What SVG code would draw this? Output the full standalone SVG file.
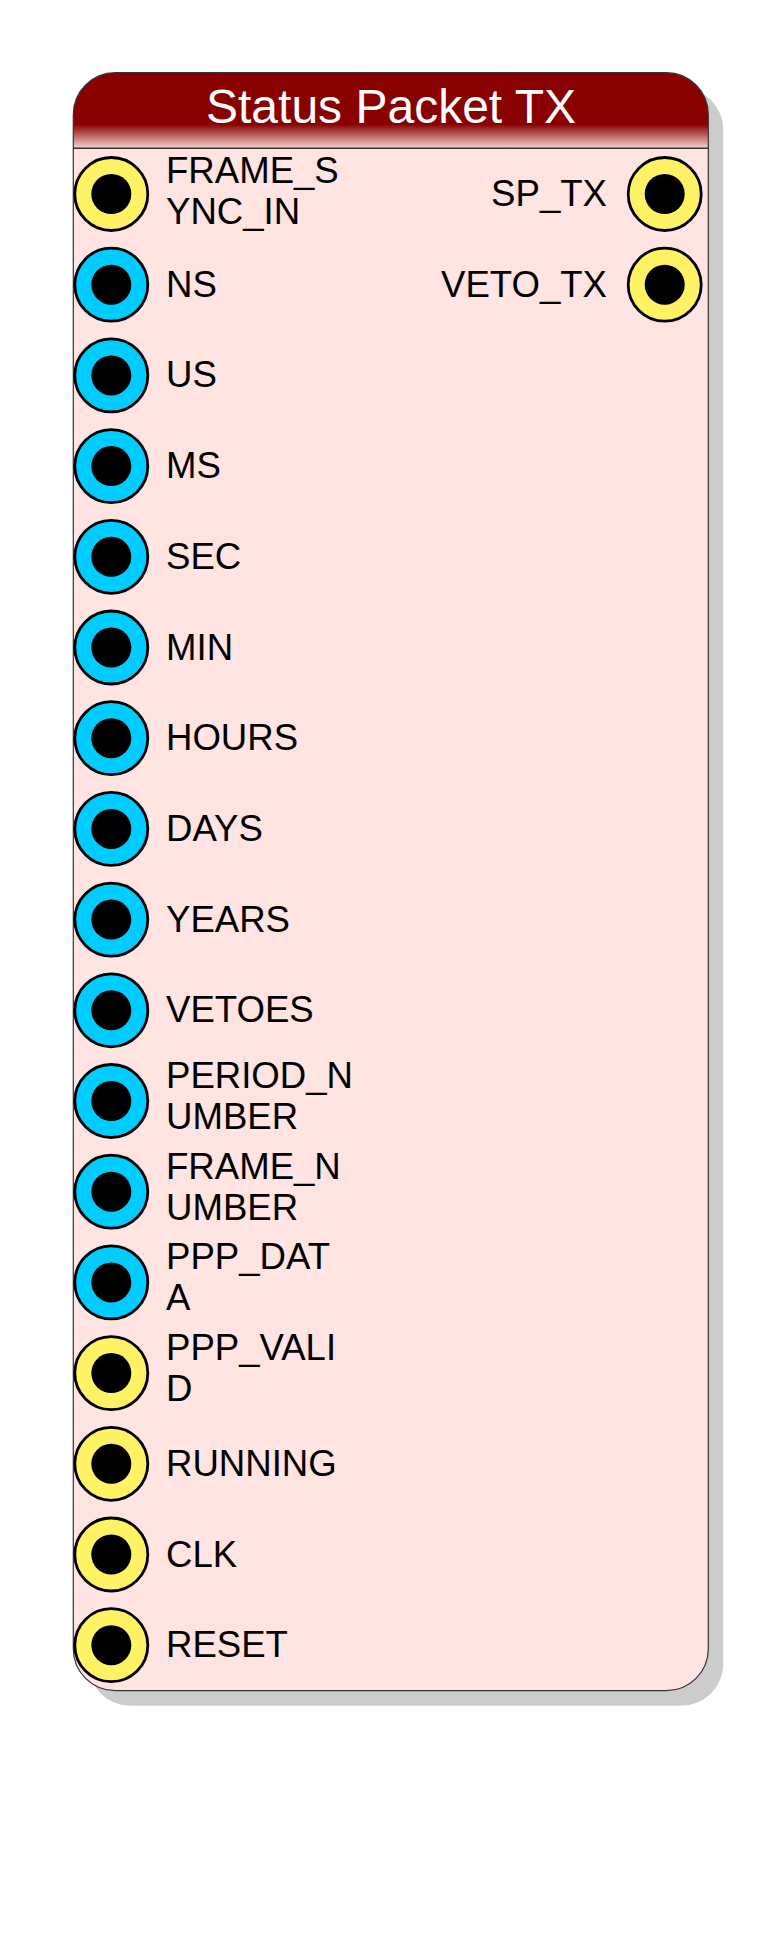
<svg xmlns="http://www.w3.org/2000/svg" width="782" height="1955" viewBox="0 0 782 1955">
<style>
.lbl{font-family:"Liberation Sans",Arial,sans-serif;font-size:36.6px;fill:#000}
.r{text-anchor:end}
.title{font-family:"Liberation Sans",Arial,sans-serif;font-size:48px;fill:#fff;text-anchor:middle}
.ring{stroke:#000;stroke-width:2.8}
.y{fill:#FFF264}
.b{fill:#00CCFF}
.hole{fill:#000}
</style>
<defs>
<linearGradient id="hg" x1="0" y1="0" x2="0" y2="1">
<stop offset="0" stop-color="#880000"/>
<stop offset="0.68" stop-color="#880000"/>
<stop offset="1" stop-color="#F7D4D2"/>
</linearGradient>
</defs>
<g id="block">
<rect x="88.3" y="87.7" width="635" height="1618" rx="42" ry="42" fill="#CCCCCC"/>
<rect x="73.3" y="72.7" width="635" height="1618" rx="42" ry="42" fill="#FFE4E1"/>
<path d="M73.3,148.3 V114.7 A42,42 0 0 1 115.3,72.7 H666.3 A42,42 0 0 1 708.3,114.7 V148.3 Z" fill="url(#hg)"/>
<line x1="73.3" y1="148.3" x2="708.3" y2="148.3" stroke="#333" stroke-width="1.5"/>
<rect x="73.3" y="72.7" width="635" height="1618" rx="42" ry="42" fill="none" stroke="#333" stroke-width="1.2"/>
<text class="title" x="391" y="123.3">Status Packet TX</text>
</g>
<g id="connectors"></g>
<g id="port-FRAME_SYNC_IN"><circle class="ring y" cx="111.3" cy="194" r="36.5"/><circle class="hole" cx="111.3" cy="194" r="20"/><text class="lbl" x="166" y="183">FRAME_S</text><text class="lbl" x="166" y="224">YNC_IN</text></g>
<g id="port-NS"><circle class="ring b" cx="111.3" cy="284.7" r="36.5"/><circle class="hole" cx="111.3" cy="284.7" r="20"/><text class="lbl" x="166" y="296.7">NS</text></g>
<g id="port-US"><circle class="ring b" cx="111.3" cy="375.4" r="36.5"/><circle class="hole" cx="111.3" cy="375.4" r="20"/><text class="lbl" x="166" y="387.4">US</text></g>
<g id="port-MS"><circle class="ring b" cx="111.3" cy="466.1" r="36.5"/><circle class="hole" cx="111.3" cy="466.1" r="20"/><text class="lbl" x="166" y="478.1">MS</text></g>
<g id="port-SEC"><circle class="ring b" cx="111.3" cy="556.8" r="36.5"/><circle class="hole" cx="111.3" cy="556.8" r="20"/><text class="lbl" x="166" y="568.8">SEC</text></g>
<g id="port-MIN"><circle class="ring b" cx="111.3" cy="647.5" r="36.5"/><circle class="hole" cx="111.3" cy="647.5" r="20"/><text class="lbl" x="166" y="659.5">MIN</text></g>
<g id="port-HOURS"><circle class="ring b" cx="111.3" cy="738.2" r="36.5"/><circle class="hole" cx="111.3" cy="738.2" r="20"/><text class="lbl" x="166" y="750.2">HOURS</text></g>
<g id="port-DAYS"><circle class="ring b" cx="111.3" cy="828.9" r="36.5"/><circle class="hole" cx="111.3" cy="828.9" r="20"/><text class="lbl" x="166" y="840.9">DAYS</text></g>
<g id="port-YEARS"><circle class="ring b" cx="111.3" cy="919.6" r="36.5"/><circle class="hole" cx="111.3" cy="919.6" r="20"/><text class="lbl" x="166" y="931.6">YEARS</text></g>
<g id="port-VETOES"><circle class="ring b" cx="111.3" cy="1010.3" r="36.5"/><circle class="hole" cx="111.3" cy="1010.3" r="20"/><text class="lbl" x="166" y="1022.3">VETOES</text></g>
<g id="port-PERIOD_NUMBER"><circle class="ring b" cx="111.3" cy="1101" r="36.5"/><circle class="hole" cx="111.3" cy="1101" r="20"/><text class="lbl" x="166" y="1088">PERIOD_N</text><text class="lbl" x="166" y="1129">UMBER</text></g>
<g id="port-FRAME_NUMBER"><circle class="ring b" cx="111.3" cy="1191.7" r="36.5"/><circle class="hole" cx="111.3" cy="1191.7" r="20"/><text class="lbl" x="166" y="1178.7">FRAME_N</text><text class="lbl" x="166" y="1219.7">UMBER</text></g>
<g id="port-PPP_DATA"><circle class="ring b" cx="111.3" cy="1282.4" r="36.5"/><circle class="hole" cx="111.3" cy="1282.4" r="20"/><text class="lbl" x="166" y="1269.4">PPP_DAT</text><text class="lbl" x="166" y="1310.4">A</text></g>
<g id="port-PPP_VALID"><circle class="ring y" cx="111.3" cy="1373.1" r="36.5"/><circle class="hole" cx="111.3" cy="1373.1" r="20"/><text class="lbl" x="166" y="1360.1">PPP_VALI</text><text class="lbl" x="166" y="1401.1">D</text></g>
<g id="port-RUNNING"><circle class="ring y" cx="111.3" cy="1463.8" r="36.5"/><circle class="hole" cx="111.3" cy="1463.8" r="20"/><text class="lbl" x="166" y="1475.8">RUNNING</text></g>
<g id="port-CLK"><circle class="ring y" cx="111.3" cy="1554.5" r="36.5"/><circle class="hole" cx="111.3" cy="1554.5" r="20"/><text class="lbl" x="166" y="1566.5">CLK</text></g>
<g id="port-RESET"><circle class="ring y" cx="111.3" cy="1645.2" r="36.5"/><circle class="hole" cx="111.3" cy="1645.2" r="20"/><text class="lbl" x="166" y="1657.2">RESET</text></g>
<g id="port-SP_TX"><circle class="ring y" cx="664.7" cy="194" r="36.5"/><circle class="hole" cx="664.7" cy="194" r="20"/><text class="lbl r" x="607" y="206">SP_TX</text></g>
<g id="port-VETO_TX"><circle class="ring y" cx="664.7" cy="284.7" r="36.5"/><circle class="hole" cx="664.7" cy="284.7" r="20"/><text class="lbl r" x="607" y="296.7">VETO_TX</text></g>
</svg>
